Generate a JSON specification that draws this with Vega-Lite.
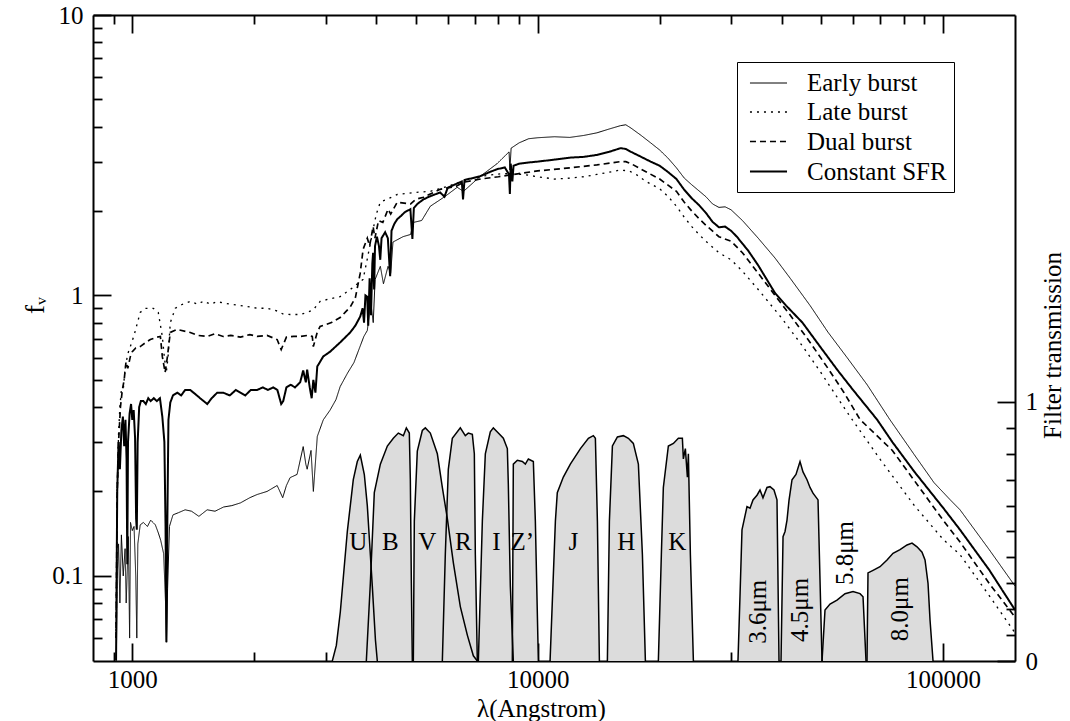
{
  "$schema": "https://vega.github.io/schema/vega-lite/v6.json",
  "width": 922,
  "height": 646,
  "autosize": "none",
  "padding": {"left": 93, "top": 15, "right": 55, "bottom": 60},
  "background": "white",
  "config": {
    "view": {"stroke": null},
    "axis": {
      "domainColor": "black", "domainWidth": 2, "tickColor": "black", "tickWidth": 1.8,
      "labelFont": "Liberation Serif", "labelFontSize": 25, "labelColor": "black",
      "titleFont": "Liberation Serif", "titleFontSize": 25, "titleFontWeight": "normal", "titleColor": "black",
      "grid": false, "labelFlush": false, "labelOverlap": false, "labelBound": false
    },
    "legend": {
      "orient": "none", "legendX": 644, "legendY": 47,
      "labelFont": "Liberation Serif", "labelFontSize": 25, "labelColor": "black",
      "symbolType": "M-1.4,0H1.4", "symbolSize": 700, "symbolStrokeColor": "black", "symbolOffset": 10,
      "strokeColor": "black", "fillColor": "white", "padding": 7, "rowPadding": 2, "labelOffset": 24
    }
  },
  "datasets": {
    "filt": [
      {"band":"U","lam":3115,"t":0},{"band":"U","lam":3187,"t":0.06},{"band":"U","lam":3260,"t":0.19},{"band":"U","lam":3392,"t":0.5},{"band":"U","lam":3509,"t":0.7},{"band":"U","lam":3590,"t":0.77},{"band":"U","lam":3652,"t":0.795},{"band":"U","lam":3736,"t":0.72},{"band":"U","lam":3800,"t":0.6},{"band":"U","lam":3909,"t":0.29},{"band":"U","lam":3980,"t":0.08},{"band":"U","lam":4022,"t":0},
      {"band":"B","lam":3779,"t":0},{"band":"B","lam":3866,"t":0.3},{"band":"B","lam":3954,"t":0.65},{"band":"B","lam":4092,"t":0.76},{"band":"B","lam":4258,"t":0.83},{"band":"B","lam":4405,"t":0.86},{"band":"B","lam":4532,"t":0.88},{"band":"B","lam":4663,"t":0.87},{"band":"B","lam":4743,"t":0.9},{"band":"B","lam":4824,"t":0.88},{"band":"B","lam":4852,"t":0.7},{"band":"B","lam":4880,"t":0.3},{"band":"B","lam":4907,"t":0},
      {"band":"V","lam":4935,"t":0},{"band":"V","lam":4963,"t":0.54},{"band":"V","lam":5048,"t":0.81},{"band":"V","lam":5194,"t":0.89},{"band":"V","lam":5283,"t":0.9},{"band":"V","lam":5435,"t":0.88},{"band":"V","lam":5656,"t":0.8},{"band":"V","lam":5819,"t":0.67},{"band":"V","lam":5987,"t":0.55},{"band":"V","lam":6194,"t":0.38},{"band":"V","lam":6445,"t":0.21},{"band":"V","lam":6707,"t":0.1},{"band":"V","lam":6940,"t":0.02},{"band":"V","lam":7099,"t":0},
      {"band":"R","lam":5819,"t":0},{"band":"R","lam":5918,"t":0.41},{"band":"R","lam":6020,"t":0.74},{"band":"R","lam":6159,"t":0.86},{"band":"R","lam":6445,"t":0.9},{"band":"R","lam":6630,"t":0.87},{"band":"R","lam":6745,"t":0.88},{"band":"R","lam":6900,"t":0.875},{"band":"R","lam":6979,"t":0.8},{"band":"R","lam":7019,"t":0.41},{"band":"R","lam":7099,"t":0},
      {"band":"I","lam":7140,"t":0},{"band":"I","lam":7304,"t":0.54},{"band":"I","lam":7429,"t":0.8},{"band":"I","lam":7642,"t":0.885},{"band":"I","lam":7774,"t":0.9},{"band":"I","lam":7998,"t":0.88},{"band":"I","lam":8229,"t":0.86},{"band":"I","lam":8418,"t":0.82},{"band":"I","lam":8466,"t":0.68},{"band":"I","lam":8562,"t":0.29},{"band":"I","lam":8709,"t":0},
      {"band":"Z","lam":8660,"t":0},{"band":"Z","lam":8709,"t":0.76},{"band":"Z","lam":8910,"t":0.775},{"band":"Z","lam":9167,"t":0.77},{"band":"Z","lam":9324,"t":0.76},{"band":"Z","lam":9485,"t":0.78},{"band":"Z","lam":9758,"t":0.77},{"band":"Z","lam":9870,"t":0.54},{"band":"Z","lam":10040,"t":0},
      {"band":"J","lam":10730,"t":0},{"band":"J","lam":11060,"t":0.54},{"band":"J","lam":11180,"t":0.65},{"band":"J","lam":11570,"t":0.71},{"band":"J","lam":12040,"t":0.76},{"band":"J","lam":12750,"t":0.82},{"band":"J","lam":13340,"t":0.86},{"band":"J","lam":13720,"t":0.87},{"band":"J","lam":13880,"t":0.86},{"band":"J","lam":14040,"t":0.54},{"band":"J","lam":14200,"t":0},
      {"band":"H","lam":14860,"t":0},{"band":"H","lam":15030,"t":0.54},{"band":"H","lam":15290,"t":0.83},{"band":"H","lam":15730,"t":0.865},{"band":"H","lam":16270,"t":0.87},{"band":"H","lam":16740,"t":0.86},{"band":"H","lam":17220,"t":0.84},{"band":"H","lam":17720,"t":0.76},{"band":"H","lam":18130,"t":0.41},{"band":"H","lam":18440,"t":0},
      {"band":"K","lam":19850,"t":0},{"band":"K","lam":20190,"t":0.41},{"band":"K","lam":20420,"t":0.67},{"band":"K","lam":21010,"t":0.83},{"band":"K","lam":21620,"t":0.84},{"band":"K","lam":22240,"t":0.86},{"band":"K","lam":22750,"t":0.86},{"band":"K","lam":22880,"t":0.78},{"band":"K","lam":23140,"t":0.82},{"band":"K","lam":23410,"t":0.71},{"band":"K","lam":23540,"t":0.8},{"band":"K","lam":23810,"t":0.41},{"band":"K","lam":24220,"t":0},
      {"band":"I1","lam":31200,"t":0},{"band":"I1","lam":31560,"t":0.25},{"band":"I1","lam":31920,"t":0.506},{"band":"I1","lam":32470,"t":0.56},{"band":"I1","lam":32840,"t":0.596},{"band":"I1","lam":33410,"t":0.59},{"band":"I1","lam":33980,"t":0.622},{"band":"I1","lam":34760,"t":0.64},{"band":"I1","lam":35360,"t":0.66},{"band":"I1","lam":35960,"t":0.63},{"band":"I1","lam":36790,"t":0.67},{"band":"I1","lam":37430,"t":0.673},{"band":"I1","lam":38280,"t":0.66},{"band":"I1","lam":38940,"t":0.622},{"band":"I1","lam":39390,"t":0},
      {"band":"I2","lam":39840,"t":0},{"band":"I2","lam":40300,"t":0.48},{"band":"I2","lam":40760,"t":0.5},{"band":"I2","lam":41220,"t":0.544},{"band":"I2","lam":41690,"t":0.62},{"band":"I2","lam":42410,"t":0.7},{"band":"I2","lam":43380,"t":0.72},{"band":"I2","lam":44380,"t":0.77},{"band":"I2","lam":45140,"t":0.73},{"band":"I2","lam":46180,"t":0.7},{"band":"I2","lam":46970,"t":0.67},{"band":"I2","lam":47780,"t":0.648},{"band":"I2","lam":49160,"t":0.622},{"band":"I2","lam":50290,"t":0},
      {"band":"I3","lam":50290,"t":0},{"band":"I3","lam":51150,"t":0.197},{"band":"I3","lam":52630,"t":0.22},{"band":"I3","lam":54760,"t":0.235},{"band":"I3","lam":57310,"t":0.26},{"band":"I3","lam":59970,"t":0.268},{"band":"I3","lam":62410,"t":0.26},{"band":"I3","lam":63480,"t":0.248},{"band":"I3","lam":64570,"t":0},
      {"band":"I4","lam":64930,"t":0},{"band":"I4","lam":65300,"t":0.34},{"band":"I4","lam":67190,"t":0.35},{"band":"I4","lam":69910,"t":0.364},{"band":"I4","lam":72750,"t":0.39},{"band":"I4","lam":75270,"t":0.416},{"band":"I4","lam":78330,"t":0.43},{"band":"I4","lam":81500,"t":0.448},{"band":"I4","lam":83850,"t":0.455},{"band":"I4","lam":86270,"t":0.441},{"band":"I4","lam":88750,"t":0.42},{"band":"I4","lam":90280,"t":0.39},{"band":"I4","lam":91830,"t":0.3},{"band":"I4","lam":92880,"t":0.158},{"band":"I4","lam":94480,"t":0}
    ],
    "blab": [
      {"label":"U","lam":3611,"t":0.46},{"label":"B","lam":4331,"t":0.46},{"label":"V","lam":5343,"t":0.46},{"label":"R","lam":6557,"t":0.46},{"label":"I","lam":7908,"t":0.46},{"label":"Z’","lam":9167,"t":0.46},{"label":"J","lam":12250,"t":0.46},{"label":"H","lam":16550,"t":0.46},{"label":"K","lam":22110,"t":0.46}
    ],
    "irlab": [
      {"label":"3.6μm","lam":35030,"t":0.19},{"label":"4.5μm","lam":44380,"t":0.197},{"label":"5.8μm","lam":57430,"t":0.417},{"label":"8.0μm","lam":78330,"t":0.2}
    ],
    "sed": [
      {"s":"Constant SFR","lam":912,"f":0.05},{"s":"Constant SFR","lam":918,"f":0.2},{"s":"Constant SFR","lam":925,"f":0.3},{"s":"Constant SFR","lam":932,"f":0.24},{"s":"Constant SFR","lam":940,"f":0.33},{"s":"Constant SFR","lam":948,"f":0.37},{"s":"Constant SFR","lam":955,"f":0.29},{"s":"Constant SFR","lam":962,"f":0.36},{"s":"Constant SFR","lam":968,"f":0.26},{"s":"Constant SFR","lam":972,"f":0.11},{"s":"Constant SFR","lam":976,"f":0.3},{"s":"Constant SFR","lam":985,"f":0.38},{"s":"Constant SFR","lam":993,"f":0.41},{"s":"Constant SFR","lam":1000,"f":0.36},{"s":"Constant SFR","lam":1008,"f":0.39},{"s":"Constant SFR","lam":1016,"f":0.31},{"s":"Constant SFR","lam":1022,"f":0.16},{"s":"Constant SFR","lam":1026,"f":0.146},{"s":"Constant SFR","lam":1031,"f":0.3},{"s":"Constant SFR","lam":1040,"f":0.4},{"s":"Constant SFR","lam":1050,"f":0.42},{"s":"Constant SFR","lam":1065,"f":0.42},{"s":"Constant SFR","lam":1080,"f":0.41},{"s":"Constant SFR","lam":1095,"f":0.43},{"s":"Constant SFR","lam":1110,"f":0.42},{"s":"Constant SFR","lam":1130,"f":0.43},{"s":"Constant SFR","lam":1150,"f":0.42},{"s":"Constant SFR","lam":1170,"f":0.43},{"s":"Constant SFR","lam":1186,"f":0.37},{"s":"Constant SFR","lam":1200,"f":0.3},{"s":"Constant SFR","lam":1208,"f":0.15},{"s":"Constant SFR","lam":1214,"f":0.058},{"s":"Constant SFR","lam":1220,"f":0.15},{"s":"Constant SFR","lam":1228,"f":0.36},{"s":"Constant SFR","lam":1241,"f":0.415},{"s":"Constant SFR","lam":1260,"f":0.44},{"s":"Constant SFR","lam":1291,"f":0.45},{"s":"Constant SFR","lam":1320,"f":0.44},{"s":"Constant SFR","lam":1350,"f":0.46},{"s":"Constant SFR","lam":1390,"f":0.46},{"s":"Constant SFR","lam":1430,"f":0.445},{"s":"Constant SFR","lam":1470,"f":0.43},{"s":"Constant SFR","lam":1531,"f":0.41},{"s":"Constant SFR","lam":1570,"f":0.43},{"s":"Constant SFR","lam":1620,"f":0.45},{"s":"Constant SFR","lam":1676,"f":0.45},{"s":"Constant SFR","lam":1740,"f":0.44},{"s":"Constant SFR","lam":1800,"f":0.46},{"s":"Constant SFR","lam":1848,"f":0.45},{"s":"Constant SFR","lam":1900,"f":0.44},{"s":"Constant SFR","lam":1960,"f":0.46},{"s":"Constant SFR","lam":2032,"f":0.46},{"s":"Constant SFR","lam":2100,"f":0.47},{"s":"Constant SFR","lam":2160,"f":0.46},{"s":"Constant SFR","lam":2227,"f":0.47},{"s":"Constant SFR","lam":2280,"f":0.46},{"s":"Constant SFR","lam":2330,"f":0.41},{"s":"Constant SFR","lam":2357,"f":0.42},{"s":"Constant SFR","lam":2400,"f":0.47},{"s":"Constant SFR","lam":2460,"f":0.48},{"s":"Constant SFR","lam":2520,"f":0.47},{"s":"Constant SFR","lam":2595,"f":0.49},{"s":"Constant SFR","lam":2640,"f":0.54},{"s":"Constant SFR","lam":2680,"f":0.49},{"s":"Constant SFR","lam":2700,"f":0.544},{"s":"Constant SFR","lam":2740,"f":0.47},{"s":"Constant SFR","lam":2770,"f":0.43},{"s":"Constant SFR","lam":2797,"f":0.5},{"s":"Constant SFR","lam":2830,"f":0.45},{"s":"Constant SFR","lam":2860,"f":0.558},{"s":"Constant SFR","lam":2959,"f":0.606},{"s":"Constant SFR","lam":3076,"f":0.63},{"s":"Constant SFR","lam":3257,"f":0.68},{"s":"Constant SFR","lam":3449,"f":0.738},{"s":"Constant SFR","lam":3550,"f":0.78},{"s":"Constant SFR","lam":3650,"f":0.841},{"s":"Constant SFR","lam":3700,"f":0.9},{"s":"Constant SFR","lam":3730,"f":0.8},{"s":"Constant SFR","lam":3760,"f":1.0},{"s":"Constant SFR","lam":3797,"f":0.99},{"s":"Constant SFR","lam":3820,"f":0.78},{"s":"Constant SFR","lam":3850,"f":1.15},{"s":"Constant SFR","lam":3880,"f":0.85},{"s":"Constant SFR","lam":3910,"f":1.3},{"s":"Constant SFR","lam":3927,"f":1.42},{"s":"Constant SFR","lam":3950,"f":1.05},{"s":"Constant SFR","lam":3970,"f":1.5},{"s":"Constant SFR","lam":4013,"f":1.62},{"s":"Constant SFR","lam":4060,"f":1.5},{"s":"Constant SFR","lam":4090,"f":1.34},{"s":"Constant SFR","lam":4120,"f":1.6},{"s":"Constant SFR","lam":4205,"f":1.68},{"s":"Constant SFR","lam":4270,"f":1.6},{"s":"Constant SFR","lam":4326,"f":1.17},{"s":"Constant SFR","lam":4360,"f":1.7},{"s":"Constant SFR","lam":4430,"f":1.8},{"s":"Constant SFR","lam":4505,"f":1.87},{"s":"Constant SFR","lam":4600,"f":1.92},{"s":"Constant SFR","lam":4700,"f":1.98},{"s":"Constant SFR","lam":4853,"f":2.03},{"s":"Constant SFR","lam":4909,"f":1.59},{"s":"Constant SFR","lam":4950,"f":2.05},{"s":"Constant SFR","lam":5050,"f":2.12},{"s":"Constant SFR","lam":5226,"f":2.2},{"s":"Constant SFR","lam":5400,"f":2.25},{"s":"Constant SFR","lam":5746,"f":2.33},{"s":"Constant SFR","lam":5890,"f":2.25},{"s":"Constant SFR","lam":6000,"f":2.42},{"s":"Constant SFR","lam":6300,"f":2.5},{"s":"Constant SFR","lam":6500,"f":2.55},{"s":"Constant SFR","lam":6545,"f":2.2},{"s":"Constant SFR","lam":6600,"f":2.58},{"s":"Constant SFR","lam":6900,"f":2.62},{"s":"Constant SFR","lam":7210,"f":2.66},{"s":"Constant SFR","lam":7600,"f":2.75},{"s":"Constant SFR","lam":7940,"f":2.82},{"s":"Constant SFR","lam":8300,"f":2.86},{"s":"Constant SFR","lam":8498,"f":2.7},{"s":"Constant SFR","lam":8540,"f":2.3},{"s":"Constant SFR","lam":8580,"f":2.95},{"s":"Constant SFR","lam":8662,"f":2.55},{"s":"Constant SFR","lam":8720,"f":2.9},{"s":"Constant SFR","lam":9000,"f":2.95},{"s":"Constant SFR","lam":9500,"f":2.98},{"s":"Constant SFR","lam":10000,"f":3.0},{"s":"Constant SFR","lam":11000,"f":3.05},{"s":"Constant SFR","lam":12000,"f":3.1},{"s":"Constant SFR","lam":13000,"f":3.12},{"s":"Constant SFR","lam":14000,"f":3.17},{"s":"Constant SFR","lam":15000,"f":3.25},{"s":"Constant SFR","lam":16000,"f":3.35},{"s":"Constant SFR","lam":16500,"f":3.33},{"s":"Constant SFR","lam":17000,"f":3.25},{"s":"Constant SFR","lam":18000,"f":3.12},{"s":"Constant SFR","lam":19000,"f":3.0},{"s":"Constant SFR","lam":20000,"f":2.9},{"s":"Constant SFR","lam":21000,"f":2.75},{"s":"Constant SFR","lam":22000,"f":2.6},{"s":"Constant SFR","lam":23000,"f":2.38},{"s":"Constant SFR","lam":24000,"f":2.22},{"s":"Constant SFR","lam":25000,"f":2.1},{"s":"Constant SFR","lam":26000,"f":1.97},{"s":"Constant SFR","lam":27000,"f":1.83},{"s":"Constant SFR","lam":28000,"f":1.75},{"s":"Constant SFR","lam":29000,"f":1.76},{"s":"Constant SFR","lam":30000,"f":1.7},{"s":"Constant SFR","lam":31000,"f":1.62},{"s":"Constant SFR","lam":32000,"f":1.53},{"s":"Constant SFR","lam":33000,"f":1.45},{"s":"Constant SFR","lam":35000,"f":1.28},{"s":"Constant SFR","lam":38500,"f":1.02},{"s":"Constant SFR","lam":41000,"f":0.92},{"s":"Constant SFR","lam":45000,"f":0.8},{"s":"Constant SFR","lam":50000,"f":0.65},{"s":"Constant SFR","lam":55000,"f":0.54},{"s":"Constant SFR","lam":60000,"f":0.46},{"s":"Constant SFR","lam":68730,"f":0.361},{"s":"Constant SFR","lam":75000,"f":0.3},{"s":"Constant SFR","lam":85000,"f":0.235},{"s":"Constant SFR","lam":100000,"f":0.175},{"s":"Constant SFR","lam":110140,"f":0.146},{"s":"Constant SFR","lam":130000,"f":0.105},{"s":"Constant SFR","lam":150500,"f":0.0756},
      {"s":"Early burst","lam":912,"f":0.04},{"s":"Early burst","lam":918,"f":0.1},{"s":"Early burst","lam":925,"f":0.13},{"s":"Early burst","lam":932,"f":0.08},{"s":"Early burst","lam":940,"f":0.14},{"s":"Early burst","lam":950,"f":0.1},{"s":"Early burst","lam":960,"f":0.125},{"s":"Early burst","lam":966,"f":0.08},{"s":"Early burst","lam":972,"f":0.105},{"s":"Early burst","lam":978,"f":0.138},{"s":"Early burst","lam":985,"f":0.06},{"s":"Early burst","lam":990,"f":0.155},{"s":"Early burst","lam":1000,"f":0.145},{"s":"Early burst","lam":1010,"f":0.15},{"s":"Early burst","lam":1020,"f":0.1},{"s":"Early burst","lam":1026,"f":0.06},{"s":"Early burst","lam":1032,"f":0.13},{"s":"Early burst","lam":1046,"f":0.152},{"s":"Early burst","lam":1065,"f":0.155},{"s":"Early burst","lam":1090,"f":0.15},{"s":"Early burst","lam":1110,"f":0.158},{"s":"Early burst","lam":1140,"f":0.152},{"s":"Early burst","lam":1160,"f":0.142},{"s":"Early burst","lam":1175,"f":0.134},{"s":"Early burst","lam":1195,"f":0.12},{"s":"Early burst","lam":1208,"f":0.08},{"s":"Early burst","lam":1214,"f":0.058},{"s":"Early burst","lam":1222,"f":0.09},{"s":"Early burst","lam":1235,"f":0.15},{"s":"Early burst","lam":1260,"f":0.165},{"s":"Early burst","lam":1300,"f":0.168},{"s":"Early burst","lam":1350,"f":0.172},{"s":"Early burst","lam":1400,"f":0.17},{"s":"Early burst","lam":1460,"f":0.163},{"s":"Early burst","lam":1530,"f":0.172},{"s":"Early burst","lam":1600,"f":0.17},{"s":"Early burst","lam":1680,"f":0.176},{"s":"Early burst","lam":1760,"f":0.178},{"s":"Early burst","lam":1848,"f":0.182},{"s":"Early burst","lam":1950,"f":0.19},{"s":"Early burst","lam":2032,"f":0.195},{"s":"Early burst","lam":2150,"f":0.2},{"s":"Early burst","lam":2277,"f":0.21},{"s":"Early burst","lam":2350,"f":0.19},{"s":"Early burst","lam":2400,"f":0.21},{"s":"Early burst","lam":2451,"f":0.224},{"s":"Early burst","lam":2550,"f":0.23},{"s":"Early burst","lam":2640,"f":0.289},{"s":"Early burst","lam":2680,"f":0.25},{"s":"Early burst","lam":2700,"f":0.24},{"s":"Early burst","lam":2760,"f":0.28},{"s":"Early burst","lam":2797,"f":0.2},{"s":"Early burst","lam":2860,"f":0.314},{"s":"Early burst","lam":2959,"f":0.36},{"s":"Early burst","lam":3076,"f":0.39},{"s":"Early burst","lam":3180,"f":0.425},{"s":"Early burst","lam":3257,"f":0.473},{"s":"Early burst","lam":3400,"f":0.53},{"s":"Early burst","lam":3522,"f":0.576},{"s":"Early burst","lam":3726,"f":0.714},{"s":"Early burst","lam":3800,"f":0.75},{"s":"Early burst","lam":3876,"f":0.944},{"s":"Early burst","lam":3930,"f":0.8},{"s":"Early burst","lam":3972,"f":1.14},{"s":"Early burst","lam":4092,"f":1.27},{"s":"Early burst","lam":4165,"f":1.1},{"s":"Early burst","lam":4275,"f":1.27},{"s":"Early burst","lam":4340,"f":1.2},{"s":"Early burst","lam":4396,"f":1.55},{"s":"Early burst","lam":4655,"f":1.62},{"s":"Early burst","lam":4861,"f":1.65},{"s":"Early burst","lam":4930,"f":1.82},{"s":"Early burst","lam":5175,"f":1.85},{"s":"Early burst","lam":5435,"f":2.08},{"s":"Early burst","lam":5900,"f":2.25},{"s":"Early burst","lam":6331,"f":2.43},{"s":"Early burst","lam":6563,"f":2.35},{"s":"Early burst","lam":7220,"f":2.66},{"s":"Early burst","lam":7940,"f":2.95},{"s":"Early burst","lam":8500,"f":3.25},{"s":"Early burst","lam":8542,"f":2.8},{"s":"Early burst","lam":8600,"f":3.35},{"s":"Early burst","lam":9000,"f":3.5},{"s":"Early burst","lam":9500,"f":3.62},{"s":"Early burst","lam":10000,"f":3.65},{"s":"Early burst","lam":11000,"f":3.68},{"s":"Early burst","lam":12000,"f":3.66},{"s":"Early burst","lam":13000,"f":3.72},{"s":"Early burst","lam":14000,"f":3.8},{"s":"Early burst","lam":15000,"f":3.92},{"s":"Early burst","lam":16000,"f":4.03},{"s":"Early burst","lam":16500,"f":4.06},{"s":"Early burst","lam":17000,"f":3.95},{"s":"Early burst","lam":18000,"f":3.72},{"s":"Early burst","lam":19000,"f":3.5},{"s":"Early burst","lam":20000,"f":3.3},{"s":"Early burst","lam":21000,"f":3.08},{"s":"Early burst","lam":22000,"f":2.85},{"s":"Early burst","lam":23000,"f":2.62},{"s":"Early burst","lam":24000,"f":2.48},{"s":"Early burst","lam":25000,"f":2.36},{"s":"Early burst","lam":26000,"f":2.25},{"s":"Early burst","lam":27000,"f":2.12},{"s":"Early burst","lam":28000,"f":2.06},{"s":"Early burst","lam":29000,"f":2.07},{"s":"Early burst","lam":30000,"f":2.02},{"s":"Early burst","lam":32000,"f":1.85},{"s":"Early burst","lam":35000,"f":1.6},{"s":"Early burst","lam":38500,"f":1.36},{"s":"Early burst","lam":42000,"f":1.15},{"s":"Early burst","lam":47000,"f":0.92},{"s":"Early burst","lam":52000,"f":0.74},{"s":"Early burst","lam":58000,"f":0.6},{"s":"Early burst","lam":65000,"f":0.48},{"s":"Early burst","lam":73900,"f":0.361},{"s":"Early burst","lam":85000,"f":0.27},{"s":"Early burst","lam":95000,"f":0.215},{"s":"Early burst","lam":104050,"f":0.187},{"s":"Early burst","lam":110140,"f":0.172},{"s":"Early burst","lam":130000,"f":0.124},{"s":"Early burst","lam":150500,"f":0.092},
      {"s":"Dual burst","lam":912,"f":0.06},{"s":"Dual burst","lam":918,"f":0.2},{"s":"Dual burst","lam":925,"f":0.3},{"s":"Dual burst","lam":935,"f":0.4},{"s":"Dual burst","lam":945,"f":0.46},{"s":"Dual burst","lam":955,"f":0.5},{"s":"Dual burst","lam":965,"f":0.58},{"s":"Dual burst","lam":975,"f":0.55},{"s":"Dual burst","lam":989,"f":0.605},{"s":"Dual burst","lam":1000,"f":0.63},{"s":"Dual burst","lam":1020,"f":0.65},{"s":"Dual burst","lam":1046,"f":0.657},{"s":"Dual burst","lam":1080,"f":0.68},{"s":"Dual burst","lam":1108,"f":0.696},{"s":"Dual burst","lam":1150,"f":0.71},{"s":"Dual burst","lam":1173,"f":0.714},{"s":"Dual burst","lam":1186,"f":0.606},{"s":"Dual burst","lam":1205,"f":0.531},{"s":"Dual burst","lam":1220,"f":0.6},{"s":"Dual burst","lam":1241,"f":0.738},{"s":"Dual burst","lam":1290,"f":0.756},{"s":"Dual burst","lam":1390,"f":0.738},{"s":"Dual burst","lam":1450,"f":0.72},{"s":"Dual burst","lam":1530,"f":0.714},{"s":"Dual burst","lam":1600,"f":0.73},{"s":"Dual burst","lam":1676,"f":0.714},{"s":"Dual burst","lam":1750,"f":0.72},{"s":"Dual burst","lam":1848,"f":0.71},{"s":"Dual burst","lam":1950,"f":0.725},{"s":"Dual burst","lam":2032,"f":0.714},{"s":"Dual burst","lam":2150,"f":0.72},{"s":"Dual burst","lam":2277,"f":0.696},{"s":"Dual burst","lam":2330,"f":0.641},{"s":"Dual burst","lam":2400,"f":0.71},{"s":"Dual burst","lam":2500,"f":0.714},{"s":"Dual burst","lam":2600,"f":0.714},{"s":"Dual burst","lam":2700,"f":0.72},{"s":"Dual burst","lam":2780,"f":0.714},{"s":"Dual burst","lam":2797,"f":0.657},{"s":"Dual burst","lam":2860,"f":0.74},{"s":"Dual burst","lam":2906,"f":0.775},{"s":"Dual burst","lam":3100,"f":0.8},{"s":"Dual burst","lam":3257,"f":0.834},{"s":"Dual burst","lam":3350,"f":0.87},{"s":"Dual burst","lam":3450,"f":0.91},{"s":"Dual burst","lam":3550,"f":0.98},{"s":"Dual burst","lam":3650,"f":1.2},{"s":"Dual burst","lam":3710,"f":1.46},{"s":"Dual burst","lam":3800,"f":1.6},{"s":"Dual burst","lam":3850,"f":1.5},{"s":"Dual burst","lam":3927,"f":1.76},{"s":"Dual burst","lam":3968,"f":1.6},{"s":"Dual burst","lam":4050,"f":1.85},{"s":"Dual burst","lam":4150,"f":1.82},{"s":"Dual burst","lam":4275,"f":2.03},{"s":"Dual burst","lam":4340,"f":1.95},{"s":"Dual burst","lam":4505,"f":2.15},{"s":"Dual burst","lam":4861,"f":2.12},{"s":"Dual burst","lam":5000,"f":2.2},{"s":"Dual burst","lam":5226,"f":2.24},{"s":"Dual burst","lam":5746,"f":2.39},{"s":"Dual burst","lam":6300,"f":2.45},{"s":"Dual burst","lam":6545,"f":2.53},{"s":"Dual burst","lam":7220,"f":2.6},{"s":"Dual burst","lam":8000,"f":2.65},{"s":"Dual burst","lam":9000,"f":2.72},{"s":"Dual burst","lam":10000,"f":2.78},{"s":"Dual burst","lam":12000,"f":2.85},{"s":"Dual burst","lam":14000,"f":2.92},{"s":"Dual burst","lam":16000,"f":3.0},{"s":"Dual burst","lam":16500,"f":3.0},{"s":"Dual burst","lam":17000,"f":2.95},{"s":"Dual burst","lam":18000,"f":2.82},{"s":"Dual burst","lam":20000,"f":2.6},{"s":"Dual burst","lam":22000,"f":2.35},{"s":"Dual burst","lam":23000,"f":2.15},{"s":"Dual burst","lam":24000,"f":2.0},{"s":"Dual burst","lam":25000,"f":1.88},{"s":"Dual burst","lam":26000,"f":1.78},{"s":"Dual burst","lam":28000,"f":1.62},{"s":"Dual burst","lam":30000,"f":1.56},{"s":"Dual burst","lam":32000,"f":1.42},{"s":"Dual burst","lam":35000,"f":1.2},{"s":"Dual burst","lam":38500,"f":1.0},{"s":"Dual burst","lam":42000,"f":0.85},{"s":"Dual burst","lam":47000,"f":0.68},{"s":"Dual burst","lam":52000,"f":0.55},{"s":"Dual burst","lam":57000,"f":0.45},{"s":"Dual burst","lam":62410,"f":0.361},{"s":"Dual burst","lam":75000,"f":0.28},{"s":"Dual burst","lam":90000,"f":0.195},{"s":"Dual burst","lam":100000,"f":0.158},{"s":"Dual burst","lam":110140,"f":0.132},{"s":"Dual burst","lam":130000,"f":0.094},{"s":"Dual burst","lam":150500,"f":0.0713},
      {"s":"Late burst","lam":912,"f":0.06},{"s":"Late burst","lam":918,"f":0.2},{"s":"Late burst","lam":925,"f":0.32},{"s":"Late burst","lam":932,"f":0.4},{"s":"Late burst","lam":940,"f":0.46},{"s":"Late burst","lam":950,"f":0.462},{"s":"Late burst","lam":960,"f":0.55},{"s":"Late burst","lam":975,"f":0.62},{"s":"Late burst","lam":989,"f":0.657},{"s":"Late burst","lam":1010,"f":0.72},{"s":"Late burst","lam":1030,"f":0.8},{"s":"Late burst","lam":1046,"f":0.87},{"s":"Late burst","lam":1077,"f":0.899},{"s":"Late burst","lam":1127,"f":0.899},{"s":"Late burst","lam":1159,"f":0.87},{"s":"Late burst","lam":1186,"f":0.714},{"s":"Late burst","lam":1200,"f":0.6},{"s":"Late burst","lam":1213,"f":0.531},{"s":"Late burst","lam":1225,"f":0.6},{"s":"Late burst","lam":1241,"f":0.8},{"s":"Late burst","lam":1277,"f":0.9},{"s":"Late burst","lam":1330,"f":0.93},{"s":"Late burst","lam":1390,"f":0.952},{"s":"Late burst","lam":1450,"f":0.93},{"s":"Late burst","lam":1500,"f":0.955},{"s":"Late burst","lam":1560,"f":0.93},{"s":"Late burst","lam":1620,"f":0.95},{"s":"Late burst","lam":1676,"f":0.94},{"s":"Late burst","lam":1750,"f":0.93},{"s":"Late burst","lam":1850,"f":0.92},{"s":"Late burst","lam":1950,"f":0.91},{"s":"Late burst","lam":2032,"f":0.9},{"s":"Late burst","lam":2150,"f":0.9},{"s":"Late burst","lam":2277,"f":0.88},{"s":"Late burst","lam":2350,"f":0.86},{"s":"Late burst","lam":2451,"f":0.855},{"s":"Late burst","lam":2595,"f":0.855},{"s":"Late burst","lam":2700,"f":0.87},{"s":"Late burst","lam":2797,"f":0.89},{"s":"Late burst","lam":2907,"f":0.952},{"s":"Late burst","lam":3050,"f":0.97},{"s":"Late burst","lam":3257,"f":0.99},{"s":"Late burst","lam":3449,"f":1.05},{"s":"Late burst","lam":3709,"f":1.14},{"s":"Late burst","lam":3800,"f":1.35},{"s":"Late burst","lam":3927,"f":1.72},{"s":"Late burst","lam":4000,"f":1.95},{"s":"Late burst","lam":4090,"f":2.15},{"s":"Late burst","lam":4300,"f":2.22},{"s":"Late burst","lam":4505,"f":2.29},{"s":"Late burst","lam":5000,"f":2.33},{"s":"Late burst","lam":5430,"f":2.35},{"s":"Late burst","lam":6000,"f":2.45},{"s":"Late burst","lam":6817,"f":2.6},{"s":"Late burst","lam":7500,"f":2.68},{"s":"Late burst","lam":8218,"f":2.72},{"s":"Late burst","lam":9222,"f":2.7},{"s":"Late burst","lam":10000,"f":2.65},{"s":"Late burst","lam":11000,"f":2.6},{"s":"Late burst","lam":12000,"f":2.62},{"s":"Late burst","lam":13000,"f":2.65},{"s":"Late burst","lam":14000,"f":2.7},{"s":"Late burst","lam":15000,"f":2.75},{"s":"Late burst","lam":16000,"f":2.8},{"s":"Late burst","lam":16800,"f":2.78},{"s":"Late burst","lam":17500,"f":2.7},{"s":"Late burst","lam":18500,"f":2.55},{"s":"Late burst","lam":20000,"f":2.4},{"s":"Late burst","lam":21000,"f":2.25},{"s":"Late burst","lam":22000,"f":2.08},{"s":"Late burst","lam":23000,"f":1.9},{"s":"Late burst","lam":24000,"f":1.76},{"s":"Late burst","lam":25000,"f":1.65},{"s":"Late burst","lam":26000,"f":1.56},{"s":"Late burst","lam":28000,"f":1.42},{"s":"Late burst","lam":30000,"f":1.34},{"s":"Late burst","lam":32000,"f":1.22},{"s":"Late burst","lam":35000,"f":1.05},{"s":"Late burst","lam":40000,"f":0.83},{"s":"Late burst","lam":45000,"f":0.66},{"s":"Late burst","lam":50000,"f":0.53},{"s":"Late burst","lam":55000,"f":0.43},{"s":"Late burst","lam":58960,"f":0.37},{"s":"Late burst","lam":70000,"f":0.26},{"s":"Late burst","lam":85000,"f":0.178},{"s":"Late burst","lam":100000,"f":0.135},{"s":"Late burst","lam":110140,"f":0.119},{"s":"Late burst","lam":130000,"f":0.085},{"s":"Late burst","lam":150500,"f":0.0626}
    ]
  },
  "layer": [
    {
      "data": {"name": "sed"},
      "mark": {"type": "line", "color": "black", "clip": true},
      "encoding": {
        "x": {"field": "lam", "type": "quantitative",
              "scale": {"type": "log", "domain": [800, 150500], "nice": false},
              "axis": {"orient": "bottom", "values": [900,1000,2000,3000,4000,5000,6000,7000,8000,9000,10000,20000,30000,40000,50000,60000,70000,80000,90000,100000],
                       "labelExpr": "datum.value == 1000 ? '1000' : datum.value == 10000 ? '10000' : datum.value == 100000 ? '100000' : ''",
                       "tickSize": {"condition": {"test": "datum.value == 1000 || datum.value == 10000 || datum.value == 100000", "value": -18}, "value": -9},
                       "labelPadding": 24,
                       "title": "λ(Angstrom)", "titleX": 448, "titleY": 55, "titleBaseline": "alphabetic", "titleAnchor": "middle"}},
        "y": {"field": "f", "type": "quantitative",
              "scale": {"type": "log", "domain": [0.0497, 10], "nice": false},
              "axis": {"orient": "left", "values": [0.06,0.07,0.08,0.09,0.1,0.2,0.3,0.4,0.5,0.6,0.7,0.8,0.9,1,2,3,4,5,6,7,8,9,10],
                       "labelExpr": "datum.value == 0.1 ? '0.1' : datum.value == 1 ? '1' : datum.value == 10 ? '10' : ''",
                       "tickSize": {"condition": {"test": "datum.value == 0.1 || datum.value == 1 || datum.value == 10", "value": -18}, "value": -9},
                       "labelPadding": 28,
                       "title": "fᵥ", "titleAngle": 270, "titleX": -58, "titleY": 290, "titleAlign": "center", "titleBaseline": "middle", "titleFontSize": 27}},
        "strokeDash": {"field": "s", "type": "nominal",
                       "scale": {"domain": ["Early burst", "Late burst", "Dual burst", "Constant SFR"], "range": [[1,0],[2,5],[6,4],[1,0]]},
                       "legend": {"title": null}},
        "strokeWidth": {"field": "s", "type": "nominal",
                        "scale": {"domain": ["Early burst", "Late burst", "Dual burst", "Constant SFR"], "range": [1, 2, 1.2, 3]},
                        "legend": {"title": null}}
      }
    },
    {
      "layer": [
        {
          "data": {"name": "filt"},
          "mark": {"type": "area", "fill": "#dcdcdc", "clip": true},
          "encoding": {
            "x": {"field": "lam", "type": "quantitative",
                  "scale": {"type": "log", "domain": [800, 150500], "nice": false},
                  "axis": {"orient": "top", "values": [900,1000,2000,3000,4000,5000,6000,7000,8000,9000,10000,20000,30000,40000,50000,60000,70000,80000,90000,100000],
                           "labels": false, "title": null,
                           "tickSize": {"condition": {"test": "datum.value == 1000 || datum.value == 10000 || datum.value == 100000", "value": -18}, "value": -9}}},
            "y": {"field": "t", "type": "quantitative", "stack": null,
                  "scale": {"domain": [0, 2.494], "nice": false},
                  "axis": {"orient": "right", "values": [0,0.1,0.2,0.3,0.4,0.5,0.6,0.7,0.8,0.9,1],
                           "labelExpr": "datum.value == 0 ? '0' : datum.value == 1 ? '1' : ''",
                           "tickSize": {"condition": {"test": "datum.value == 0 || datum.value == 1", "value": -18}, "value": -9},
                           "labelPadding": 28,
                           "title": "Filter transmission", "titleAngle": 270, "titleX": 37, "titleY": 330, "titleAlign": "center", "titleBaseline": "middle"}},
            "detail": {"field": "band", "type": "nominal"}
          }
        },
        {
          "data": {"name": "filt"},
          "mark": {"type": "line", "color": "black", "strokeWidth": 1.5, "clip": true},
          "encoding": {
            "x": {"field": "lam", "type": "quantitative"},
            "y": {"field": "t", "type": "quantitative"},
            "detail": {"field": "band", "type": "nominal"}
          }
        },
        {
          "data": {"name": "blab"},
          "mark": {"type": "text", "font": "Liberation Serif", "fontSize": 25, "color": "black", "align": "center", "baseline": "middle"},
          "encoding": {
            "x": {"field": "lam", "type": "quantitative"},
            "y": {"field": "t", "type": "quantitative"},
            "text": {"field": "label"}
          }
        },
        {
          "data": {"name": "irlab"},
          "mark": {"type": "text", "font": "Liberation Serif", "fontSize": 25, "color": "black", "align": "center", "baseline": "middle", "angle": 270},
          "encoding": {
            "x": {"field": "lam", "type": "quantitative"},
            "y": {"field": "t", "type": "quantitative"},
            "text": {"field": "label"}
          }
        }
      ]
    }
  ],
  "resolve": {"scale": {"y": "independent"}, "axis": {"x": "independent", "y": "independent"}}
}
